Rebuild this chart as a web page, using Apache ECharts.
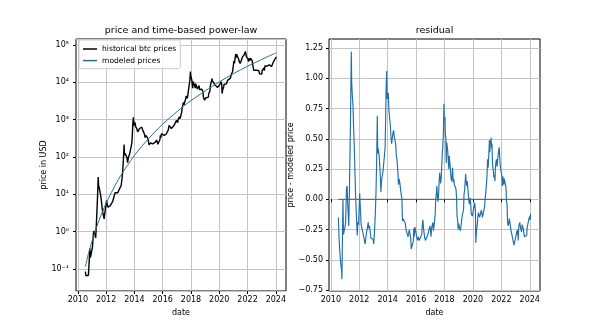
<!DOCTYPE html>
<html>
<head>
<meta charset="utf-8">
<script src="https://cdn.jsdelivr.net/npm/echarts@6/dist/echarts.min.js"></script>
<style>html,body{margin:0;padding:0;background:#fff}#c{width:600px;height:328px}</style>
</head>
<body>
<div id="c"></div>
<script>
// ---- data ----
const dates = [
 2010.53,2010.58,2010.63,2010.70,2010.75,2010.78,2010.85,2010.89,2010.94,2010.98,
 2011.04,2011.10,2011.14,2011.19,2011.26,2011.30,2011.35,2011.39,2011.44,2011.47,2011.52,2011.56,2011.60,2011.65,2011.70,2011.75,2011.80,2011.86,2011.90,2011.95,
 2012.03,2012.08,2012.13,2012.18,2012.23,2012.28,2012.33,2012.38,2012.42,2012.47,2012.52,2012.57,2012.63,2012.67,2012.72,2012.77,2012.82,2012.87,2012.92,2012.97,
 2013.02,2013.06,2013.10,2013.14,2013.18,2013.22,2013.27,2013.30,2013.34,2013.40,2013.46,2013.52,2013.57,2013.62,2013.67,2013.72,2013.77,2013.82,2013.86,2013.89,2013.93,2013.96,2013.99,
 2014.04,2014.09,2014.14,2014.18,2014.23,2014.28,2014.32,2014.37,2014.42,2014.47,2014.52,2014.56,2014.61,2014.66,2014.71,2014.76,2014.80,2014.85,2014.90,2014.95,
 2015.00,2015.04,2015.09,2015.14,2015.19,2015.24,2015.29,2015.33,2015.38,2015.43,2015.48,2015.52,2015.57,2015.62,2015.66,2015.71,2015.76,2015.80,2015.84,2015.87,2015.92,2015.97,
 2016.02,2016.06,2016.11,2016.16,2016.21,2016.26,2016.30,2016.35,2016.40,2016.45,2016.48,2016.52,2016.57,2016.61,2016.66,2016.71,2016.75,2016.80,2016.84,2016.89,2016.94,2016.98,
 2017.02,2017.05,2017.09,2017.14,2017.18,2017.22,2017.26,2017.30,2017.34,2017.38,2017.42,2017.46,2017.50,2017.54,2017.58,2017.62,2017.66,2017.70,2017.73,2017.77,2017.81,2017.85,2017.88,2017.92,2017.96,2017.99,
 2018.03,2018.06,2018.09,2018.12,2018.15,2018.19,2018.22,2018.26,2018.30,2018.33,2018.37,2018.41,2018.45,2018.49,2018.53,2018.57,2018.61,2018.65,2018.69,2018.73,2018.77,2018.81,2018.85,2018.88,2018.92,2018.96,2018.99,
 2019.03,2019.07,2019.11,2019.15,2019.19,2019.23,2019.26,2019.30,2019.34,2019.37,2019.41,2019.45,2019.49,2019.52,2019.56,2019.60,2019.64,2019.68,2019.72,2019.76,2019.80,2019.84,2019.88,2019.92,2019.96,
 2020.00,2020.04,2020.08,2020.12,2020.15,2020.18,2020.20,2020.24,2020.27,2020.31,2020.35,2020.39,2020.43,2020.47,2020.51,2020.55,2020.59,2020.63,2020.67,2020.71,2020.75,2020.79,2020.83,2020.86,2020.90,2020.94,2020.97,
 2021.00,2021.03,2021.07,2021.10,2021.14,2021.16,2021.19,2021.22,2021.25,2021.28,2021.31,2021.34,2021.37,2021.40,2021.44,2021.48,2021.52,2021.55,2021.58,2021.62,2021.66,2021.70,2021.74,2021.77,2021.81,2021.85,2021.88,2021.92,2021.96,
 2022.00,2022.04,2022.07,2022.10,2022.13,2022.17,2022.21,2022.25,2022.29,2022.33,2022.36,2022.40,2022.44,2022.48,2022.52,2022.56,2022.60,2022.64,2022.68,2022.72,2022.76,2022.80,2022.84,2022.88,2022.92,2022.96,
 2023.00,2023.04,2023.08,2023.12,2023.16,2023.19,2023.23,2023.27,2023.30,2023.34,2023.38,2023.42,2023.46,2023.50,2023.54,2023.58,2023.62,2023.66,2023.70,2023.74,2023.78,2023.82,2023.86,2023.90,2023.94,2023.97,2024.01,2024.03,2024.05
];
const prices = [
 0.085,0.065,0.062,0.062,0.068,0.062,0.35,0.20,0.25,0.30,
 0.40,0.90,1.05,0.85,0.68,1.3,3.5,8.0,29,17,14.5,13.5,10,7.5,5.0,3.5,2.8,2.2,3.0,3.2,
 6.8,5.5,4.5,4.9,4.8,4.9,5.0,5.1,5.2,6.5,7.7,9.0,11,10.5,12,11.5,11,12,13.3,13.5,
 13.3,17,22,30,46,80,215,110,125,118,100,70,95,105,125,135,190,240,450,800,1150,700,750,
 850,650,600,560,470,430,450,580,650,600,630,590,500,480,410,330,380,370,350,320,
 315,210,230,240,260,245,225,230,240,225,250,280,285,260,220,235,240,290,380,330,420,430,
 440,380,375,420,415,420,440,450,530,700,740,650,660,580,575,605,610,700,720,740,780,960,
 1000,820,1000,1050,1200,1050,1100,1350,1550,2100,2400,2900,2500,2300,2700,3500,4300,4500,3700,4200,5600,7300,8000,11000,19300,14500,
 16000,11500,11200,7000,10500,11000,9500,8000,7000,9200,8300,7500,6600,6200,6700,8200,6400,7000,6500,6600,6500,6400,5600,4000,3800,3300,3700,
 3800,3500,3450,3800,3900,4000,5100,5300,5800,8000,8700,9000,12500,11000,10300,11500,10200,10200,8300,8200,9300,8800,7300,7200,7200,
 7200,8700,9400,10300,9600,8800,5000,6200,6800,7500,8900,9800,9500,9300,9100,9500,11300,11700,10200,10700,10600,12900,14000,16500,18500,19200,23500,
 29000,37000,32000,38000,49000,57000,46000,57000,55000,63000,52000,57000,42000,37000,35000,32000,34000,31000,40000,46000,49000,44000,43000,55000,62000,67000,58000,49000,47000,
 46500,42000,36000,44000,42000,38000,44000,46000,40000,38000,30000,29500,21000,20000,21000,23500,24000,21000,19500,19000,19500,20500,17000,16400,17000,16700,
 16600,21000,23000,22000,24500,20500,27500,28000,30000,28000,27000,26500,30500,30500,29300,29200,26000,25800,26500,27500,28500,34500,37000,37500,42000,42500,45000,42000,48000
];
const residuals = [
 -0.15,-0.33,-0.43,-0.54,-0.58,-0.66,0.00,-0.29,-0.26,-0.24,
 -0.19,0.09,0.11,-0.04,-0.22,0.02,0.40,0.72,1.22,0.96,0.84,0.77,0.60,0.43,0.21,0.00,-0.14,-0.30,-0.19,-0.21,
 0.05,-0.08,-0.21,-0.21,-0.26,-0.29,-0.32,-0.35,-0.37,-0.31,-0.27,-0.24,-0.19,-0.24,-0.22,-0.27,-0.32,-0.32,-0.31,-0.33,
 -0.37,-0.29,-0.20,-0.09,0.07,0.29,0.69,0.38,0.42,0.36,0.25,0.06,0.16,0.17,0.23,0.24,0.36,0.43,0.69,0.92,1.06,0.83,0.84,
 0.88,0.73,0.67,0.62,0.52,0.46,0.46,0.55,0.57,0.51,0.51,0.46,0.36,0.32,0.24,0.12,0.17,0.14,0.09,0.04,
 0.01,-0.18,-0.16,-0.17,-0.15,-0.20,-0.25,-0.26,-0.26,-0.31,-0.28,-0.25,-0.26,-0.32,-0.41,-0.40,-0.41,-0.35,-0.24,-0.31,-0.23,-0.24,
 -0.24,-0.32,-0.34,-0.31,-0.34,-0.35,-0.34,-0.35,-0.29,-0.19,-0.17,-0.24,-0.25,-0.32,-0.34,-0.33,-0.34,-0.30,-0.30,-0.31,-0.30,-0.22,
 -0.22,-0.31,-0.24,-0.23,-0.19,-0.26,-0.25,-0.18,-0.13,-0.01,0.04,0.11,0.03,-0.02,0.04,0.14,0.22,0.23,0.13,0.18,0.29,0.40,0.43,0.55,0.79,0.65,
 0.68,0.53,0.51,0.30,0.47,0.48,0.41,0.32,0.25,0.36,0.31,0.26,0.19,0.15,0.18,0.26,0.14,0.17,0.12,0.12,0.10,0.08,0.01,-0.14,-0.17,-0.25,-0.20,
 -0.20,-0.24,-0.26,-0.23,-0.22,-0.22,-0.12,-0.12,-0.09,0.04,0.07,0.08,0.21,0.15,0.11,0.15,0.09,0.08,-0.02,-0.04,0.01,-0.03,-0.12,-0.13,-0.14,
 -0.15,-0.08,-0.06,-0.03,-0.06,-0.11,-0.36,-0.28,-0.24,-0.21,-0.14,-0.11,-0.13,-0.15,-0.16,-0.15,-0.09,-0.08,-0.15,-0.14,-0.15,-0.08,-0.05,0.01,0.05,0.06,0.15,
 0.23,0.33,0.26,0.33,0.43,0.49,0.39,0.48,0.46,0.51,0.42,0.46,0.32,0.26,0.23,0.18,0.20,0.15,0.26,0.31,0.33,0.27,0.26,0.36,0.40,0.43,0.36,0.28,0.25,
 0.24,0.19,0.11,0.19,0.17,0.12,0.17,0.18,0.12,0.09,-0.02,-0.04,-0.19,-0.22,-0.20,-0.16,-0.16,-0.22,-0.26,-0.28,-0.28,-0.27,-0.35,-0.38,-0.37,-0.38,
 -0.39,-0.30,-0.26,-0.29,-0.25,-0.34,-0.22,-0.22,-0.19,-0.23,-0.25,-0.27,-0.21,-0.22,-0.24,-0.25,-0.31,-0.32,-0.32,-0.31,-0.30,-0.23,-0.21,-0.21,-0.16,-0.16,-0.14,-0.17,-0.12
];
const modelDates = [2010.53,2010.6,2010.65,2010.75,2010.875,2011.0,2011.125,2011.25,2011.375,2011.5,2011.75,2012.0,2012.25,2012.5,2012.75,2013.0,2013.25,2013.5,2013.75,2014.0,2014.5,2015.0,2015.5,2016.0,2016.5,2017.0,2017.5,2018.0,2018.5,2019.0,2019.5,2020.0,2020.5,2021.0,2021.5,2022.0,2022.5,2023.0,2023.5,2024.05];
const modelPrices = [0.117,0.148,0.178,0.26,0.38,0.55,0.78,1.1,1.48,2.0,3.47,5.75,9.1,13.8,20.9,30.2,42.7,58.9,81,110,190,309,490,760,1120,1620,2340,3240,4370,5890,7760,10200,13200,17000,21400,26900,33100,40700,50100,62000];
const zeroDates = [2010.53, 2024.05];
const zeroValues = [0, 0];
const xTicks = [2010,2012,2014,2016,2018,2020,2022,2024];
const residualTicks = [-0.75,-0.5,-0.25,0,0.25,0.5,0.75,1.0,1.25];
const supMap = {'-':'⁻','0':'⁰','1':'¹','2':'²','3':'³','4':'⁴','5':'⁵','6':'⁶','7':'⁷','8':'⁸','9':'⁹'};

// ---- chart ----
const FONT = 'DejaVu Sans';
const gridLine = {show:true, lineStyle:{color:'#c4c4c4', width:1}};
const tickStyle = {show:true, length:3, inside:false, lineStyle:{color:'#000', width:1}};
const lbl = {color:'#000', fontSize:8, fontFamily:FONT};

function xAxis(gi){
  return {
    type:'value', gridIndex:gi, min:2009.87, max:2024.72, minInterval:2, maxInterval:2,
    axisLine:{show:false}, splitLine:gridLine,
    axisTick:Object.assign({customValues:xTicks}, tickStyle),
    axisLabel:Object.assign({customValues:xTicks, margin:5, formatter:v=>String(Math.round(v))}, lbl),
    name:'date', nameLocation:'middle', nameGap:15, nameTextStyle:lbl
  };
}

const chart = echarts.init(document.getElementById('c'), null, {renderer:'canvas'});
chart.setOption({
  animation:false,
  backgroundColor:'#fff',
  textStyle:{fontFamily:FONT},
  title:[
    {text:'price and time-based power-law', left:181, top:26, textAlign:'center', padding:0,
     textStyle:{fontSize:9.5, fontWeight:'normal', color:'#000', fontFamily:FONT}},
    {text:'residual', left:434.5, top:26, textAlign:'center', padding:0,
     textStyle:{fontSize:9.5, fontWeight:'normal', color:'#000', fontFamily:FONT}}
  ],
  legend:{
    left:79, top:40, orient:'vertical', padding:[4,4,3,4], itemGap:1.6,
    itemWidth:14, itemHeight:1.5, itemTextGap:5,
    backgroundColor:'rgba(255,255,255,0.85)', borderColor:'#cccccc', borderWidth:1, borderRadius:2,
    textStyle:{color:'#000', fontSize:7.6, fontFamily:FONT, lineHeight:10},
    data:[
      {name:'historical btc prices', icon:'rect', itemStyle:{color:'#000'}},
      {name:'modeled prices', icon:'rect', itemStyle:{color:'#2d6e86'}}
    ]
  },
  grid:[
    {left:76, right:314, top:39, bottom:37, show:true, borderColor:'#000', borderWidth:1, backgroundColor:'transparent'},
    {left:329, right:60, top:39, bottom:37, show:true, borderColor:'#000', borderWidth:1, backgroundColor:'transparent'}
  ],
  xAxis:[xAxis(0), xAxis(1)],
  yAxis:[
    {type:'log', logBase:10, gridIndex:0, min:0.0257, max:144500,
     axisLine:{show:false}, splitLine:gridLine, axisTick:tickStyle,
     axisLabel:Object.assign({margin:7, showMinLabel:false, showMaxLabel:false,
       formatter:v=>{const e=Math.round(Math.log10(v)); return '10'+String(e).split('').map(c=>supMap[c]).join('');}}, lbl),
     name:'price in USD', nameLocation:'middle', nameGap:27, nameTextStyle:lbl},
    {type:'value', gridIndex:1, min:-0.758, max:1.325, minInterval:0.25, maxInterval:0.25,
     axisLine:{show:false}, splitLine:gridLine,
     axisTick:Object.assign({customValues:residualTicks}, tickStyle),
     axisLabel:Object.assign({customValues:residualTicks, margin:6,
       formatter:v=>v.toFixed(2).replace('-', '\u2212')}, lbl),
     name:'price - modeled price', nameLocation:'middle', nameGap:31, nameTextStyle:lbl}
  ],
  series:[
    {name:'historical btc prices', type:'line', xAxisIndex:0, yAxisIndex:0, showSymbol:false, symbol:'none',
     lineStyle:{color:'#000', width:1.4}, itemStyle:{color:'#000'},
     data:dates.map((d,i)=>[d, prices[i]])},
    {name:'modeled prices', type:'line', xAxisIndex:0, yAxisIndex:0, showSymbol:false, symbol:'none', smooth:0.3,
     lineStyle:{color:'#2d6e86', width:1}, itemStyle:{color:'#2d6e86'},
     data:modelDates.map((d,i)=>[d, modelPrices[i]])},
    {name:'zero', type:'line', xAxisIndex:1, yAxisIndex:1, showSymbol:false, symbol:'none',
     lineStyle:{color:'#555', width:1}, data:zeroDates.map((d,i)=>[d, zeroValues[i]])},
    {name:'residual', type:'line', xAxisIndex:1, yAxisIndex:1, showSymbol:false, symbol:'none',
     lineStyle:{color:'#1f6fa8', width:1.15}, itemStyle:{color:'#1f6fa8'},
     data:dates.map((d,i)=>[d, residuals[i]])}
  ]
});
</script>
</body>
</html>
